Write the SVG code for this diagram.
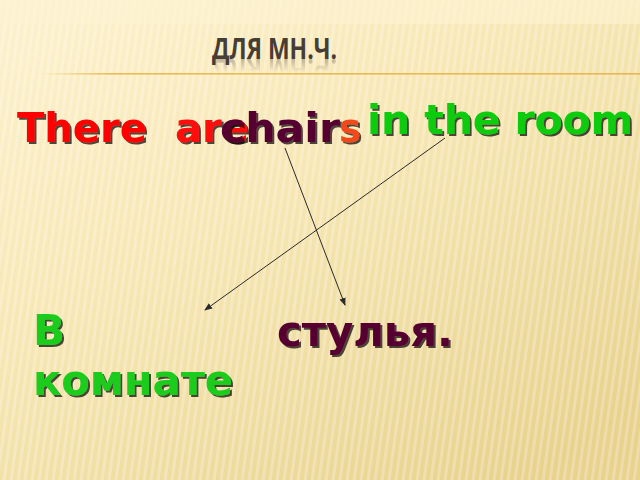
<svg xmlns="http://www.w3.org/2000/svg" width="640" height="480" viewBox="0 0 640 480">
<defs>
<linearGradient id="bg" x1="0" y1="0" x2="0.8" y2="1">
<stop offset="0" stop-color="#fdf2cf"/>
<stop offset="0.45" stop-color="#f7e7b4"/>
<stop offset="1" stop-color="#e8d28e"/>
</linearGradient>
<pattern id="stripes" width="7" height="480" patternUnits="userSpaceOnUse" patternTransform="skewX(-8)">
<rect x="0" y="0" width="3" height="480" fill="#ffffff" opacity="0.25"/>
</pattern>
<linearGradient id="rule" x1="0" y1="0" x2="1" y2="0">
<stop offset="0" stop-color="#e8b54a" stop-opacity="0"/>
<stop offset="0.12" stop-color="#e8b54a" stop-opacity="0.9"/>
<stop offset="1" stop-color="#e6b24a" stop-opacity="0.9"/>
</linearGradient>
<linearGradient id="fade" x1="0" y1="0" x2="0" y2="1">
<stop offset="0" stop-color="#fff" stop-opacity="0.4"/>
<stop offset="1" stop-color="#fff" stop-opacity="0"/>
</linearGradient>
<mask id="reflMask" maskUnits="userSpaceOnUse" x="0" y="56" width="640" height="20">
<rect x="0" y="59" width="640" height="13" fill="url(#fade)"/>
</mask>
<filter id="sh" x="-5%" y="-10%" width="110%" height="130%">
<feDropShadow dx="2" dy="2" stdDeviation="0.5" flood-color="#000" flood-opacity="0.7"/>
</filter>
<marker id="arr" markerWidth="8" markerHeight="8" refX="7" refY="4" orient="auto" markerUnits="userSpaceOnUse">
<path d="M0,0.8 L8,4 L0,7.2 z" fill="#2b2b2b"/>
</marker>
<style>
.big{font-family:"DejaVu Sans","Verdana",sans-serif;font-weight:bold;font-size:40px}
.ru{font-family:"DejaVu Sans","Verdana",sans-serif;font-weight:bold;font-size:42px}
.title{font-family:"Open Sans","DejaVu Sans",sans-serif;font-weight:bold;font-size:29px;fill:#463d35}
.conn{stroke:#2b2b2b;stroke-width:1;fill:none;marker-end:url(#arr)}
</style>
</defs>
<rect width="640" height="480" fill="url(#bg)"/>
<rect width="640" height="480" fill="url(#stripes)"/>
<rect x="0" y="0" width="640" height="24" fill="#fdf3d2" opacity="0.6"/>
<rect x="40" y="73" width="600" height="1.6" fill="url(#rule)"/>

<g id="title">
<text class="title" x="212" y="59" textLength="125" lengthAdjust="spacingAndGlyphs">ДЛЯ МН.Ч.</text>
<g mask="url(#reflMask)">
<text class="title" x="212" y="-59" transform="scale(1,-1)" textLength="125" lengthAdjust="spacingAndGlyphs" opacity="0.8">ДЛЯ МН.Ч.</text>
</g>
</g>

<g id="there-are" filter="url(#sh)">
<text class="big" x="17" y="142" textLength="130" lengthAdjust="spacingAndGlyphs" fill="#ff0000">There</text>
<text class="big" x="175" y="142" textLength="74" lengthAdjust="spacingAndGlyphs" fill="#ff0a0a">are</text>
</g>
<g id="chairs" filter="url(#sh)">
<text class="big" x="220" y="142" textLength="120" lengthAdjust="spacingAndGlyphs" fill="#560033">chair</text>
<text class="big" x="339" y="142" textLength="22" lengthAdjust="spacingAndGlyphs" fill="#f24a1c">s</text>
</g>
<g id="in-the-room" filter="url(#sh)">
<text class="big" x="367" y="134" textLength="266" lengthAdjust="spacingAndGlyphs" fill="#10cc10">in the room</text>
</g>

<g id="v-komnate" filter="url(#sh)">
<text class="ru" x="33" y="345" fill="#1ecc1e">В</text>
<text class="ru" x="33" y="395" textLength="200" lengthAdjust="spacingAndGlyphs" fill="#1ecc1e">комнате</text>
</g>
<g id="stulya" filter="url(#sh)">
<text class="ru" x="277" y="346" textLength="176" lengthAdjust="spacingAndGlyphs" fill="#560033">стулья.</text>
</g>

<g id="connectors">
<line class="conn" x1="285" y1="148" x2="345" y2="305"/>
<line class="conn" x1="445" y1="138" x2="205" y2="310"/>
</g>
</svg>
